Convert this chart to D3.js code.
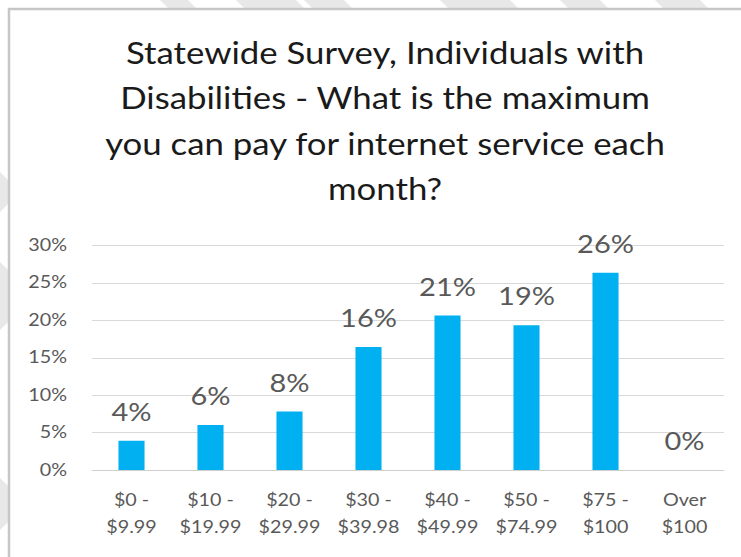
<!DOCTYPE html>
<html>
<head>
<meta charset="utf-8">
<script src="https://cdn.jsdelivr.net/npm/d3@7"></script>
<style>
  html, body { margin: 0; padding: 0; background: #ffffff; }
  svg { display: block; }
</style>
</head>
<body>
<svg id="chart" width="741" height="557"></svg>
<script>
// Survey answers: maximum monthly amount respondents can pay for internet
const categories = [
  ["$0 -", "$9.99"],
  ["$10 -", "$19.99"],
  ["$20 -", "$29.99"],
  ["$30 -", "$39.98"],
  ["$40 -", "$49.99"],
  ["$50 -", "$74.99"],
  ["$75 -", "$100"],
  ["Over", "$100"]
];
const shares = [0.039, 0.060, 0.078, 0.164, 0.206, 0.193, 0.263, 0.0];
const yTicks = [0, 0.05, 0.10, 0.15, 0.20, 0.25, 0.30];
const titleLines = [
  "Statewide Survey, Individuals with",
  "Disabilities - What is the maximum",
  "you can pay for internet service each",
  "month?"
];

const W = 741, H = 557;
const FONT = "Lato, 'Open Sans', sans-serif";
const STRETCH = 1.16;   // horizontal widening applied to all text
const svg = d3.select("#chart");

// faint diagonal bands in the page margin
const bands = [
  [160, 188], [236, 296], [304, 344], [440, 510], [560, 600], [655, 700]
];
const marginG = svg.append("g").attr("fill", "#e8e8e8");
bands.forEach(([a, b]) => {
  marginG.append("polygon")
    .attr("points", `${a},0 ${b},0 ${b + 9},9 ${a + 9},9`);
});
const leftBands = [[172, 212], [262, 330], [478, 530]];
leftBands.forEach(([a, b]) => {
  marginG.append("polygon")
    .attr("points", `0,${a} 8,${a + 8} 8,${b - 8} 0,${b}`);
});

// chart box
svg.append("rect")
  .attr("x", 9).attr("y", 9)
  .attr("width", W + 20).attr("height", H + 20)
  .attr("fill", "#ffffff")
  .attr("stroke", "#c6c6c6")
  .attr("stroke-width", 2.5);

// title
const title = svg.append("text")
  .attr("text-anchor", "middle")
  .attr("transform", `translate(385,0) scale(${STRETCH},1)`)
  .attr("font-family", FONT)
  .attr("font-size", 30)
  .attr("fill", "#1a1a1a");
titleLines.forEach((t, i) => {
  title.append("tspan")
    .attr("x", 0)
    .attr("y", 64 + i * 45.5)
    .text(t);
});

// plot area
const plot = { left: 92, right: 724, top: 245, bottom: 470 };

const x = d3.scaleBand()
  .domain(d3.range(categories.length))
  .range([plot.left, plot.right])
  .paddingInner(0.67)
  .paddingOuter(0.335);

const y = d3.scaleLinear()
  .domain([0, 0.30])
  .range([plot.bottom, plot.top]);

// gridlines
svg.append("g")
  .selectAll("line")
  .data(yTicks)
  .join("line")
  .attr("x1", plot.left).attr("x2", plot.right)
  .attr("y1", d => Math.round(y(d)) + 0.5)
  .attr("y2", d => Math.round(y(d)) + 0.5)
  .attr("stroke", d => d === 0 ? "#cfcfcf" : "#d9d9d9")
  .attr("stroke-width", 1.2);

// y axis labels
const yAxis = d3.axisLeft(y)
  .tickValues(yTicks)
  .tickFormat(d3.format(".0%"))
  .tickSize(0)
  .tickPadding(0);
const yG = svg.append("g")
  .attr("transform", "translate(67,0)")
  .call(yAxis);
yG.select(".domain").remove();
yG.selectAll("text")
  .attr("transform", `scale(${STRETCH},1)`)
  .attr("font-family", FONT)
  .attr("font-size", 17)
  .attr("fill", "#595959");

// bars
svg.append("g")
  .selectAll("rect")
  .data(shares)
  .join("rect")
  .attr("x", (d, i) => x(i))
  .attr("width", x.bandwidth())
  .attr("y", d => y(d))
  .attr("height", d => plot.bottom - y(d))
  .attr("fill", "#00b0f0");

// value labels
svg.append("g")
  .selectAll("text")
  .data(shares)
  .join("text")
  .attr("transform", (d, i) =>
    `translate(${x(i) + x.bandwidth() / 2},${y(d) - 20}) scale(${STRETCH},1)`)
  .attr("text-anchor", "middle")
  .attr("font-family", FONT)
  .attr("font-size", 25)
  .attr("fill", "#595959")
  .text(d => d3.format(".0%")(d));

// category labels
const xAxis = d3.axisBottom(x)
  .tickSize(0)
  .tickFormat("");
const xG = svg.append("g")
  .attr("transform", `translate(0,${plot.bottom})`)
  .call(xAxis);
xG.select(".domain").remove();
xG.selectAll(".tick").each(function (i) {
  const t = d3.select(this).append("text")
    .attr("transform", `scale(${STRETCH},1)`)
    .attr("text-anchor", "middle")
    .attr("font-family", FONT)
    .attr("font-size", 17)
    .attr("fill", "#595959");
  categories[i].forEach((line, k) => {
    t.append("tspan")
      .attr("x", 0)
      .attr("y", 36 + k * 27)
      .text(line);
  });
});
</script>
</body>
</html>
